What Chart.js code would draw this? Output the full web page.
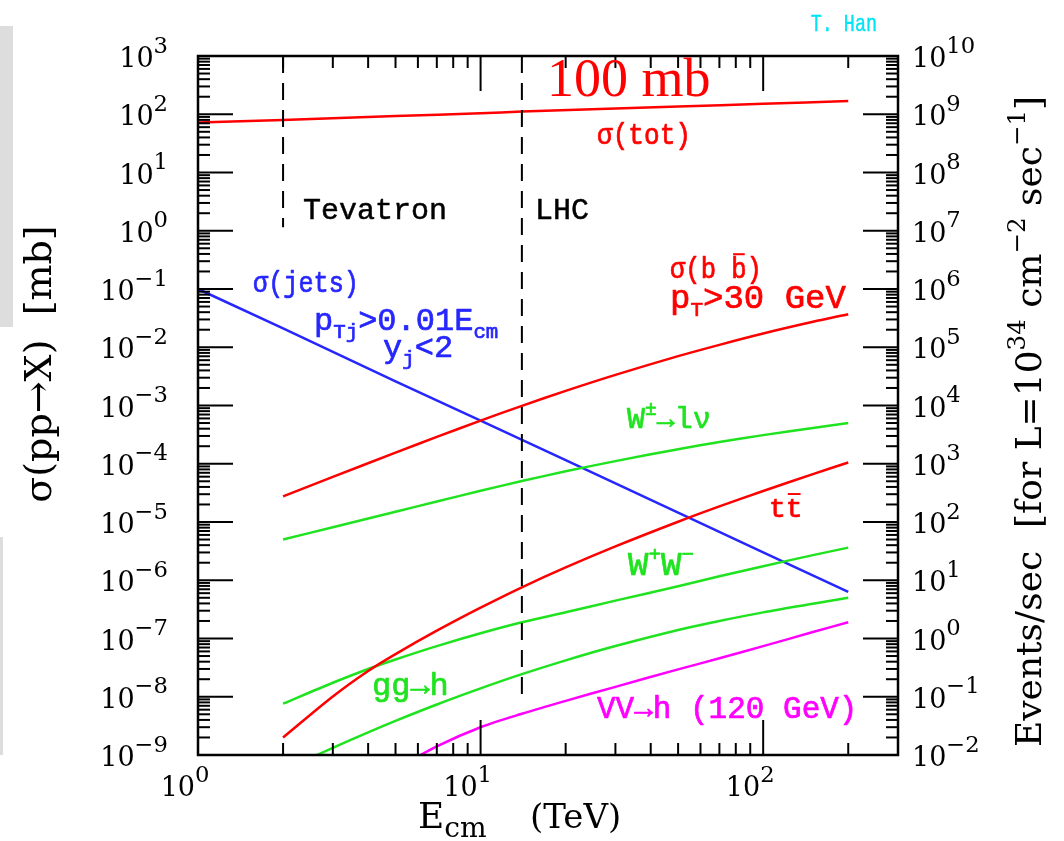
<!DOCTYPE html>
<html><head><meta charset="utf-8">
<script src="https://cdn.jsdelivr.net/npm/chart.js@4.4.1/dist/chart.umd.min.js"></script>
<style>html,body{margin:0;padding:0;background:#fff}#wrap{width:1064px;height:841px}</style>
</head><body><div id="wrap"><canvas id="c" width="1064" height="841"></canvas></div>
<script>
// ---------------- data ----------------
const sigmaTotE = [1, 2, 5, 10, 14, 30, 50, 100, 200];
const sigmaTot  = [72, 80, 93, 104, 111, 125, 136, 151, 169];

const jetsE = [1, 2, 5, 10, 20, 50, 100, 200];
const jets  = [0.1, 0.021, 2.6e-3, 5.5e-4, 1.15e-4, 1.45e-5, 3.0e-6, 6.3e-7];

const bbE   = [2, 3, 5, 7, 10, 14, 20, 30, 50, 70, 100, 150, 200];
const bbbar = [2.75e-5, 5.94e-5, 1.55e-4, 2.89e-4, 5.5e-4, 9.86e-4, 1.78e-3, 3.35e-3, 7.03e-3, 1.10e-2, 1.72e-2, 2.73e-2, 3.69e-2];

const wlnuE = [2, 3, 5, 7, 10, 14, 20, 30, 50, 70, 100, 150, 200];
const wlnu  = [5.0e-6, 8.15e-6, 1.5e-5, 2.25e-5, 3.43e-5, 5.05e-5, 7.41e-5, 1.11e-4, 1.78e-4, 2.36e-4, 3.10e-4, 4.12e-4, 4.99e-4];

const ttE   = [2, 3, 4, 5, 7, 10, 14, 20, 30, 50, 70, 100, 150, 200];
const ttbar = [2.0e-9, 1.01e-8, 2.77e-8, 5.4e-8, 1.36e-7, 3.38e-7, 7.57e-7, 1.66e-6, 3.81e-6, 1.01e-5, 1.85e-5, 3.41e-5, 6.65e-5, 1.05e-4];

const wwE = [2, 3, 4, 5, 7, 10, 14, 20, 30, 50, 70, 100, 150, 200];
const ww  = [7.6e-9, 1.74e-8, 3.0e-8, 4.37e-8, 7.4e-8, 1.23e-7, 1.9e-7, 2.82e-7, 4.47e-7, 7.9e-7, 1.17e-6, 1.74e-6, 2.7e-6, 3.63e-6];

const gghE = [2, 3, 4, 5, 7, 10, 14, 20, 30, 50, 70, 100, 150, 200];
const ggh  = [5.4e-10, 1.33e-9, 2.45e-9, 3.85e-9, 7.35e-9, 1.39e-8, 2.44e-8, 4.22e-8, 7.43e-8, 1.40e-7, 2.0e-7, 2.81e-7, 3.95e-7, 5.0e-7];

const vvhE = [5, 7, 10, 14, 20, 30, 50, 70, 100, 150, 200];
const vvh  = [5.75e-10, 1.41e-9, 3.0e-9, 5.1e-9, 8.5e-9, 1.48e-8, 2.95e-8, 4.57e-8, 7.4e-8, 1.29e-7, 1.9e-7];

// collider energies (vertical dashed markers) and their extents in mb
const tevatronE = [2, 2];
const tevatronY = [1e3, 1.15];
const lhcE = [14, 14];
const lhcY = [1e3, 1e-8];

// axis ticks
const xTicks      = [1, 10, 100];
const yLeftTicks  = [1e-9, 1e-8, 1e-7, 1e-6, 1e-5, 1e-4, 1e-3, 1e-2, 1e-1, 1e0, 1e1, 1e2, 1e3];
const yRightTicks = [1e-2, 1e-1, 1e0, 1e1, 1e2, 1e3, 1e4, 1e5, 1e6, 1e7, 1e8, 1e9, 1e10];
const minorMult   = [2, 3, 4, 5, 6, 7, 8, 9];

// ---------------- styles ----------------
const RED = '#ff0000', GREEN = '#1fe31f', BLUE = '#2626ff', MAGENTA = '#ff00ff', CYAN = '#00e4f4';
const MONO  = '"Liberation Mono", "DejaVu Sans Mono", monospace';
const SERIF = '"DejaVu Serif", "Liberation Serif", serif';
const TIMES = '"Liberation Serif", "Times New Roman", serif';

function pts(xs, ys) { return xs.map((x, i) => ({x: x, y: ys[i]})); }

function curve(label, xs, ys, color, smooth) {
  return {label, data: pts(xs, ys), borderColor: color, borderWidth: 2.5, pointRadius: 0,
          fill: false, tension: smooth ? 0.3 : 0, clip: 0};
}
function dashed(label, xs, ys) {
  return {label, data: pts(xs, ys), borderColor: '#000', borderWidth: 2, borderDash: [17, 10],
          pointRadius: 0, fill: false, tension: 0, clip: 0};
}

// ---------------- rich text helper ----------------
function drawRich(ctx, x, y, parts, o) {
  ctx.save();
  ctx.translate(x, y);
  if (o.rot) ctx.rotate(o.rot);
  ctx.scale(o.sx || 1, 1);
  const sc = o.scriptScale || 0.68;
  const fontFor = (p) => `${o.weight || 'normal'} ${(p.sup || p.sub) ? o.size * sc : o.size}px ${o.family}`;
  const segs = parts.map(p => { ctx.font = fontFor(p); return {p, w: ctx.measureText(p.t).width + (p.dx || 0)}; });
  const total = segs.reduce((s, g) => s + g.w, 0);
  let cx = o.align === 'right' ? -total : (o.align === 'center' ? -total / 2 : 0);
  ctx.fillStyle = o.color; ctx.strokeStyle = o.color;
  ctx.textBaseline = 'alphabetic'; ctx.textAlign = 'left';
  ctx.lineJoin = 'round';
  for (const g of segs) {
    ctx.font = fontFor(g.p);
    const dy = g.p.sup ? -o.size * (o.supShift || 0.42) : (g.p.sub ? o.size * (o.subShift || 0.24) : 0);
    ctx.fillText(g.p.t, cx, dy);
    if (o.bold) { ctx.lineWidth = o.bold; ctx.strokeText(g.p.t, cx, dy); }
    if (g.p.over) {
      const w = ctx.measureText(g.p.t).width;
      ctx.lineWidth = Math.max(1.5, o.size * 0.07);
      ctx.beginPath();
      ctx.moveTo(cx + w * 0.12, dy - o.size * 0.82);
      ctx.lineTo(cx + w * 0.88, dy - o.size * 0.82);
      ctx.stroke();
    }
    cx += g.w;
  }
  ctx.restore();
}

function expLabel(v) {
  const e = Math.round(Math.log10(v));
  return e < 0 ? '\u2212' + Math.abs(e) : String(e);
}

// in-plot annotations (pixel positions)
const L = (size, color, extra) => Object.assign({size, family: MONO, color, bold: 0.7}, extra || {});
const annotations = [
  {x: 877, y: 31, o: L(23, CYAN, {sx: 0.8, bold: 0.4, align: 'right'}), parts: [{t: 'T. Han'}]},
  {x: 547, y: 96, o: {size: 54, family: TIMES, color: RED}, parts: [{t: '100 mb'}]},
  {x: 597, y: 144, o: L(29, RED, {sx: 0.9}), parts: [{t: 'σ(tot)'}]},
  {x: 303, y: 219, o: L(30, '#000', {bold: 0.5}), parts: [{t: 'Tevatron'}]},
  {x: 535, y: 219, o: L(30, '#000', {bold: 0.5}), parts: [{t: 'LHC'}]},
  {x: 670, y: 278, o: L(29, RED, {sx: 0.88}), parts: [{t: 'σ(b '}, {t: 'b', over: true}, {t: ')'}]},
  {x: 670, y: 308, o: L(34, RED, {scriptScale: 0.62}), parts: [{t: 'p'}, {t: 'T', sub: true}, {t: '>30 GeV'}]},
  {x: 253, y: 292, o: L(29, BLUE, {sx: 0.87}), parts: [{t: 'σ(jets)'}]},
  {x: 314, y: 330, o: L(32, BLUE, {scriptScale: 0.65}), parts: [{t: 'p'}, {t: 'Tj', sub: true}, {t: '>0.01E'}, {t: 'cm', sub: true}]},
  {x: 383, y: 357, o: L(32, BLUE, {scriptScale: 0.65}), parts: [{t: 'y'}, {t: 'j', sub: true}, {t: '<2'}]},
  {x: 627, y: 428, o: L(30, GREEN, {scriptScale: 0.65}), parts: [{t: 'W'}, {t: '±', sup: true}, {t: '→lν'}]},
  {x: 769, y: 517, o: L(28, RED), parts: [{t: 't'}, {t: 't', over: true}]},
  {x: 628, y: 575, o: L(34, GREEN, {scriptScale: 0.62}), parts: [{t: 'W'}, {t: '+', sup: true}, {t: 'W'}, {t: '\u2212', sup: true}]},
  {x: 372, y: 695, o: L(32, GREEN), parts: [{t: 'gg→h'}]},
  {x: 597, y: 718, o: L(31, MAGENTA), parts: [{t: 'VV→h (120 GeV)'}]}
];

const decoPlugin = {
  id: 'deco',
  beforeDraw(chart) {
    const ctx = chart.ctx;
    ctx.save();
    ctx.fillStyle = '#ffffff'; ctx.fillRect(0, 0, chart.width, chart.height);
    ctx.fillStyle = '#dddddd';
    ctx.fillRect(0, 26, 13, 301);
    ctx.fillRect(0, 537, 3, 218);
    ctx.restore();
  },
  afterDatasetsDraw(chart) {
    const {ctx, chartArea: a, scales} = chart;
    const xs = scales.x, yl = scales.y, yr = scales.y2;
    const seg = (x1, y1, x2, y2) => { ctx.beginPath(); ctx.moveTo(x1, y1); ctx.lineTo(x2, y2); ctx.stroke(); };
    ctx.save();
    ctx.strokeStyle = '#000'; ctx.lineWidth = 2;
    const MAJ = 35, MIN = 12;
    for (const [sc, ticks, left] of [[yl, yLeftTicks, true], [yr, yRightTicks, false]]) {
      const x0 = left ? a.left : a.right, dir = left ? 1 : -1;
      for (const v of ticks) {
        const p = sc.getPixelForValue(v);
        seg(x0, p, x0 + dir * MAJ, p);
        if (v < sc.max) for (const m of minorMult) {
          const q = sc.getPixelForValue(v * m);
          seg(x0, q, x0 + dir * MIN, q);
        }
      }
    }
    for (const v of xTicks) {
      const p = xs.getPixelForValue(v);
      if (v > xs.min) { seg(p, a.top, p, a.top + MAJ); seg(p, a.bottom, p, a.bottom - MAJ); }
      for (const m of minorMult) {
        if (v * m >= xs.max) continue;
        const q = xs.getPixelForValue(v * m);
        seg(q, a.top, q, a.top + MIN); seg(q, a.bottom, q, a.bottom - MIN);
      }
    }
    ctx.lineWidth = 2.5;
    ctx.strokeRect(a.left, a.top, a.right - a.left, a.bottom - a.top);

    // tick labels
    const tl = {size: 27, family: SERIF, color: '#000', scriptScale: 0.84, supShift: 0.53};
    for (const v of yLeftTicks) {
      const p = yl.getPixelForValue(v);
      drawRich(ctx, 168, p + 11, [{t: '10'}, {t: expLabel(v), sup: true}], Object.assign({align: 'right'}, tl));
    }
    for (const v of yRightTicks) {
      const p = yr.getPixelForValue(v);
      drawRich(ctx, 912, p + 11, [{t: '10'}, {t: expLabel(v), sup: true}], Object.assign({align: 'left'}, tl));
    }
    ctx.font = `27px ${SERIF}`;
    const w10 = ctx.measureText('10').width;
    for (const v of xTicks) {
      const p = xs.getPixelForValue(v);
      drawRich(ctx, p - 3 - w10, 796, [{t: '10'}, {t: expLabel(v), sup: true}], Object.assign({align: 'left'}, tl));
    }

    // axis titles
    drawRich(ctx, 51, 364, [{t: 'σ(pp→X)  [mb]'}],
      {size: 38, family: SERIF, color: '#000', align: 'center', rot: -Math.PI / 2});
    drawRich(ctx, 1041, 421.5,
      [{t: 'Events/sec  [for L=10'}, {t: '34', sup: true}, {t: ' cm'}, {t: '\u22122', sup: true},
       {t: ' sec'}, {t: '\u22121', sup: true}, {t: ']'}],
      {size: 36, family: SERIF, color: '#000', align: 'center', rot: -Math.PI / 2, scriptScale: 0.68, supShift: 0.45});
    drawRich(ctx, 418, 828, [{t: 'E'}, {t: 'cm', sub: true}],
      {size: 36, family: SERIF, color: '#000', scriptScale: 0.78, subShift: 0.24});
    drawRich(ctx, 530, 828, [{t: '(TeV)'}], {size: 34, family: SERIF, color: '#000'});

    for (const an of annotations) drawRich(ctx, an.x, an.y, an.parts, an.o);
    ctx.restore();
  }
};

new Chart(document.getElementById('c'), {
  type: 'line',
  data: {
    datasets: [
      dashed('Tevatron', tevatronE, tevatronY),
      dashed('LHC', lhcE, lhcY),
      curve('σ(tot)', sigmaTotE, sigmaTot, RED, true),
      curve('σ(bb̄)', bbE, bbbar, RED, true),
      curve('tt̄', ttE, ttbar, RED, true),
      curve('W±→lν', wlnuE, wlnu, GREEN, true),
      curve('W+W−', wwE, ww, GREEN, true),
      curve('gg→h', gghE, ggh, GREEN, true),
      curve('VV→h', vvhE, vvh, MAGENTA, true),
      curve('σ(jets)', jetsE, jets, BLUE, false)
    ]
  },
  options: {
    responsive: false, animation: false, devicePixelRatio: 1,
    layout: {padding: {left: 198, right: 166, top: 56, bottom: 86}},
    plugins: {legend: {display: false}, tooltip: {enabled: false}},
    scales: {
      x:  {type: 'logarithmic', min: 1, max: 300, display: false},
      y:  {type: 'logarithmic', min: 1e-9, max: 1e3, display: false},
      y2: {type: 'logarithmic', min: 1e-2, max: 1e10, display: false, position: 'right'}
    }
  },
  plugins: [decoPlugin]
});
</script></body></html>
